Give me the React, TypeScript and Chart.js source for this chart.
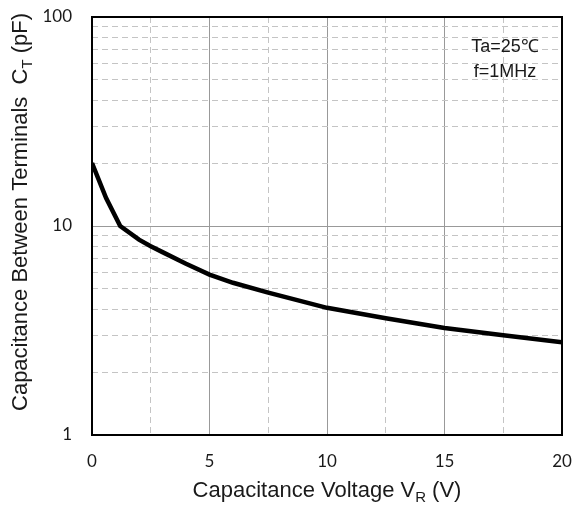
import React, { useEffect, useRef } from 'react';
import { Chart, registerables } from 'chart.js';

Chart.register(...registerables);

// Data
const voltage = [0, 0.6, 1.2, 2, 2.5, 3, 4, 5, 6, 7.5, 10, 12.5, 15, 17.5, 20];
const capacitance = [20, 13.6, 10, 8.6, 8.0, 7.5, 6.6, 5.85, 5.35, 4.8, 4.06, 3.62, 3.25, 3.0, 2.78];

const xGridValues = [0, 2.5, 5, 7.5, 10, 12.5, 15, 17.5, 20];
const xLabelValues = [0, 5, 10, 15, 20];
const yGridValues = [1, 2, 3, 4, 5, 6, 7, 8, 9, 10, 20, 30, 40, 50, 60, 70, 80, 90, 100];
const yLabelValues = [1, 10, 100];

const xTitleParts = [{ t: 'Capacitance Voltage V' }, { t: 'R', sub: true }, { t: ' (V)' }];
const yTitleParts = [{ t: 'Capacitance Between Terminals  C' }, { t: 'T', sub: true }, { t: ' (pF)' }];
const annotationLines = ['Ta=25\u2103', 'f=1MHz'];

const TITLE_FONT = '"Liberation Sans", Arial, sans-serif';
const TICK_FONT = 'Lato, "Open Sans", sans-serif';

type Part = { t: string; sub?: boolean };

function drawRich(ctx: CanvasRenderingContext2D, parts: Part[], size: number) {
  const subSize = Math.round(size * 0.68);
  const widths = parts.map((p) => {
    ctx.font = `${p.sub ? subSize : size}px ${TITLE_FONT}`;
    return ctx.measureText(p.t).width;
  });
  const total = widths.reduce((a, b) => a + b, 0);
  let x = -total / 2;
  ctx.textBaseline = 'middle';
  ctx.textAlign = 'left';
  parts.forEach((p, i) => {
    ctx.font = `${p.sub ? subSize : size}px ${TITLE_FONT}`;
    ctx.fillText(p.t, x, p.sub ? size * 0.3 : 0);
    x += widths[i];
  });
}

const decorPlugin = {
  id: 'decor',
  afterDraw(chart: any) {
    const { ctx, chartArea } = chart;
    ctx.save();
    // frame
    ctx.strokeStyle = '#000';
    ctx.lineWidth = 2;
    ctx.setLineDash([]);
    ctx.strokeRect(chartArea.left, chartArea.top, chartArea.right - chartArea.left, chartArea.bottom - chartArea.top);
    ctx.fillStyle = '#1a1a1a';
    // x title
    ctx.save();
    ctx.translate((chartArea.left + chartArea.right) / 2, 491);
    drawRich(ctx, xTitleParts, 22);
    ctx.restore();
    // y title
    ctx.save();
    ctx.translate(21, 212);
    ctx.rotate(-Math.PI / 2);
    drawRich(ctx, yTitleParts, 22);
    ctx.restore();
    // annotation
    ctx.font = `18px ${TITLE_FONT}`;
    ctx.textAlign = 'center';
    ctx.textBaseline = 'middle';
    ctx.fillText(annotationLines[0], 505, 47);
    ctx.fillText(annotationLines[1], 505, 72);
    ctx.restore();
  },
};

export default function App() {
  const ref = useRef<HTMLCanvasElement>(null);
  useEffect(() => {
    document.body.style.margin = '0';
    const canvas = ref.current!;
    const isMajorX = (v: number) => v % 5 === 0;
    const isMajorY = (v: number) => v === 1 || v === 10 || v === 100;
    const zeroPad = (scale: any) => {
      scale.paddingTop = 0;
      scale.paddingBottom = 0;
      scale.paddingLeft = 0;
      scale.paddingRight = 0;
    };
    const chart = new Chart(canvas, {
      type: 'line',
      data: {
        datasets: [
          {
            data: voltage.map((v, i) => ({ x: v, y: capacitance[i] })),
            borderColor: '#000',
            borderWidth: 4.5,
            pointRadius: 0,
            tension: 0,
            fill: false,
          },
        ],
      },
      options: {
        responsive: false,
        animation: false,
        layout: { padding: { top: 17, right: 13, left: 0, bottom: 0 } },
        plugins: { legend: { display: false }, tooltip: { enabled: false } },
        scales: {
          x: {
            type: 'linear',
            min: 0,
            max: 20,
            afterBuildTicks: (scale: any) => {
              scale.ticks = xGridValues.map((v) => ({ value: v }));
            },
            afterFit: (scale: any) => {
              scale.height = 73;
              zeroPad(scale);
            },
            ticks: {
              autoSkip: false,
              maxRotation: 0,
              padding: 16,
              color: '#1a1a1a',
              font: { family: TICK_FONT, size: 17 },
              callback: (v: any) => (xLabelValues.includes(Number(v)) ? String(v) : ''),
            },
            grid: {
              drawTicks: false,
              lineWidth: 1,
              color: (c: any) => (c.tick && isMajorX(c.tick.value) ? '#999999' : '#c4c4c4'),
            },
            border: {
              display: false,
              dash: (c: any) => (c.tick && isMajorX(c.tick.value) ? [] : [6, 4]),
            },
          },
          y: {
            type: 'logarithmic',
            min: 1,
            max: 100,
            afterBuildTicks: (scale: any) => {
              scale.ticks = yGridValues.map((v) => ({ value: v }));
            },
            afterFit: (scale: any) => {
              scale.width = 92;
              zeroPad(scale);
            },
            ticks: {
              autoSkip: false,
              padding: 20,
              color: '#1a1a1a',
              font: { family: TICK_FONT, size: 17 },
              callback: (v: any) => (yLabelValues.includes(Number(v)) ? String(v) : ''),
            },
            grid: {
              drawTicks: false,
              lineWidth: 1,
              color: (c: any) => (c.tick && isMajorY(c.tick.value) ? '#999999' : '#c4c4c4'),
            },
            border: {
              display: false,
              dash: (c: any) => (c.tick && isMajorY(c.tick.value) ? [] : [6, 4]),
            },
          },
        },
      },
      plugins: [decorPlugin],
    } as any);
    return () => chart.destroy();
  }, []);
  return (
    <div style={{ width: 575, height: 508, position: 'relative', background: '#fff' }}>
      <canvas ref={ref} width={575} height={508} />
    </div>
  );
}
